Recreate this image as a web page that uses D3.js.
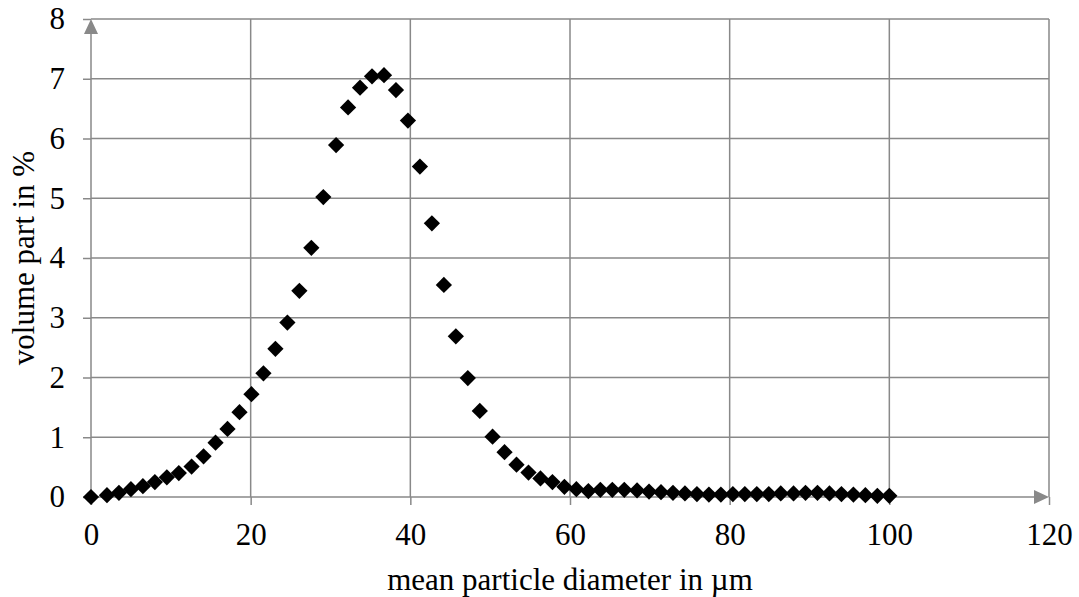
<!DOCTYPE html>
<html>
<head>
<meta charset="utf-8">
<script src="https://cdn.jsdelivr.net/npm/d3@7"></script>
<style>
  body { margin: 0; background: #fff; }
  text { font-family: "Liberation Serif", "Times New Roman", serif; fill: #000; }
</style>
</head>
<body>
<div id="chart"></div>
<script>
// mean particle diameter (µm)
const diameters = [0, 2.0, 3.5, 5.0, 6.5, 8.0, 9.5, 11.0, 12.6, 14.1, 15.6, 17.1, 18.6, 20.1, 21.6,
  23.1, 24.6, 26.1, 27.6, 29.1, 30.7, 32.2, 33.7, 35.2, 36.7, 38.2, 39.7, 41.2, 42.7, 44.2, 45.7,
  47.2, 48.7, 50.3, 51.8, 53.3, 54.8, 56.3, 57.8, 59.3, 60.8, 62.3, 63.8, 65.3, 66.8, 68.4, 69.9,
  71.4, 72.9, 74.4, 75.9, 77.4, 78.9, 80.4, 81.9, 83.4, 84.9, 86.4, 88.0, 89.5, 91.0, 92.5, 94.0,
  95.5, 97.0, 98.5, 100.0]

// volume part (%)
const volumes = [0.0, 0.03, 0.07, 0.13, 0.18, 0.25, 0.33, 0.40, 0.51, 0.68, 0.91, 1.14, 1.42, 1.72, 2.07,
  2.48, 2.92, 3.45, 4.17, 5.02, 5.89, 6.52, 6.85, 7.04, 7.06, 6.81, 6.30, 5.53, 4.58, 3.55, 2.69,
  1.99, 1.44, 1.01, 0.75, 0.54, 0.41, 0.31, 0.25, 0.17, 0.13, 0.10, 0.12, 0.12, 0.12, 0.11, 0.09,
  0.08, 0.07, 0.06, 0.05, 0.04, 0.04, 0.05, 0.05, 0.05, 0.05, 0.06, 0.06, 0.07, 0.07, 0.06, 0.05,
  0.04, 0.03, 0.02, 0.02]

const xTicks = [0, 20, 40, 60, 80, 100, 120]
const yTicks = [0, 1, 2, 3, 4, 5, 6, 7, 8]

const width = 1079
const height = 597
const margin = { top: 19, left: 91, right: 30, bottom: 100 }
const gridColor = "#898989"
const fontSize = "31px"

const data = diameters.map((d, i) => ({ x: d, y: volumes[i] }))

const svg = d3.select("#chart").append("svg")
  .attr("width", width)
  .attr("height", height)

const x = d3.scaleLinear().domain([0, 120]).range([margin.left, 1049])
const y = d3.scaleLinear().domain([0, 8]).range([497, margin.top])

// gridlines
svg.append("g")
  .selectAll("line")
  .data(xTicks.slice(1))
  .enter().append("line")
  .attr("x1", d => x(d)).attr("x2", d => x(d))
  .attr("y1", y(8)).attr("y2", y(0))
  .attr("stroke", gridColor).attr("stroke-width", 1.5)

svg.append("g")
  .selectAll("line")
  .data(yTicks.slice(1))
  .enter().append("line")
  .attr("x1", x(0)).attr("x2", x(120))
  .attr("y1", d => y(d)).attr("y2", d => y(d))
  .attr("stroke", gridColor).attr("stroke-width", 1.5)

// axes with outward ticks
const xAxis = svg.append("g")
  .attr("transform", `translate(0,${y(0)})`)
  .call(d3.axisBottom(x).tickValues(xTicks).tickSize(8).tickPadding(18))
const yAxis = svg.append("g")
  .attr("transform", `translate(${x(0)},0)`)
  .call(d3.axisLeft(y).tickValues(yTicks).tickSize(8).tickPadding(18))

;[xAxis, yAxis].forEach(ax => {
  ax.select(".domain").remove()
  ax.selectAll(".tick line").attr("stroke", gridColor).attr("stroke-width", 1.5)
  ax.selectAll(".tick text")
    .style("font-family", '"Liberation Serif", serif')
    .style("font-size", fontSize)
    .attr("fill", "#000")
})

// axis lines with arrowheads
svg.append("line")
  .attr("x1", x(0)).attr("x2", x(120) - 12)
  .attr("y1", y(0)).attr("y2", y(0))
  .attr("stroke", gridColor).attr("stroke-width", 1.5)
svg.append("path")
  .attr("d", `M${x(120)},${y(0)} L${x(120) - 15},${y(0) - 7} L${x(120) - 15},${y(0) + 7} Z`)
  .attr("fill", gridColor)

svg.append("line")
  .attr("x1", x(0)).attr("x2", x(0))
  .attr("y1", y(0)).attr("y2", y(8) + 12)
  .attr("stroke", gridColor).attr("stroke-width", 1.5)
svg.append("path")
  .attr("d", `M${x(0)},${y(8)} L${x(0) - 7},${y(8) + 15} L${x(0) + 7},${y(8) + 15} Z`)
  .attr("fill", gridColor)

// axis titles
svg.append("text")
  .attr("x", (x(0) + x(120)) / 2)
  .attr("y", 590)
  .attr("text-anchor", "middle")
  .style("font-size", fontSize)
  .text("mean particle diameter in µm")

svg.append("text")
  .attr("transform", `translate(34,${(y(0) + y(8)) / 2}) rotate(-90)`)
  .attr("text-anchor", "middle")
  .style("font-size", fontSize)
  .text("volume part in %")

// diamond markers
const diamond = d3.symbol().type(d3.symbolSquare).size(132)
svg.append("g")
  .selectAll("path")
  .data(data)
  .enter().append("path")
  .attr("d", diamond)
  .attr("transform", d => `translate(${x(d.x)},${y(d.y)}) rotate(45)`)
  .attr("fill", "#000")
</script>
</body>
</html>
